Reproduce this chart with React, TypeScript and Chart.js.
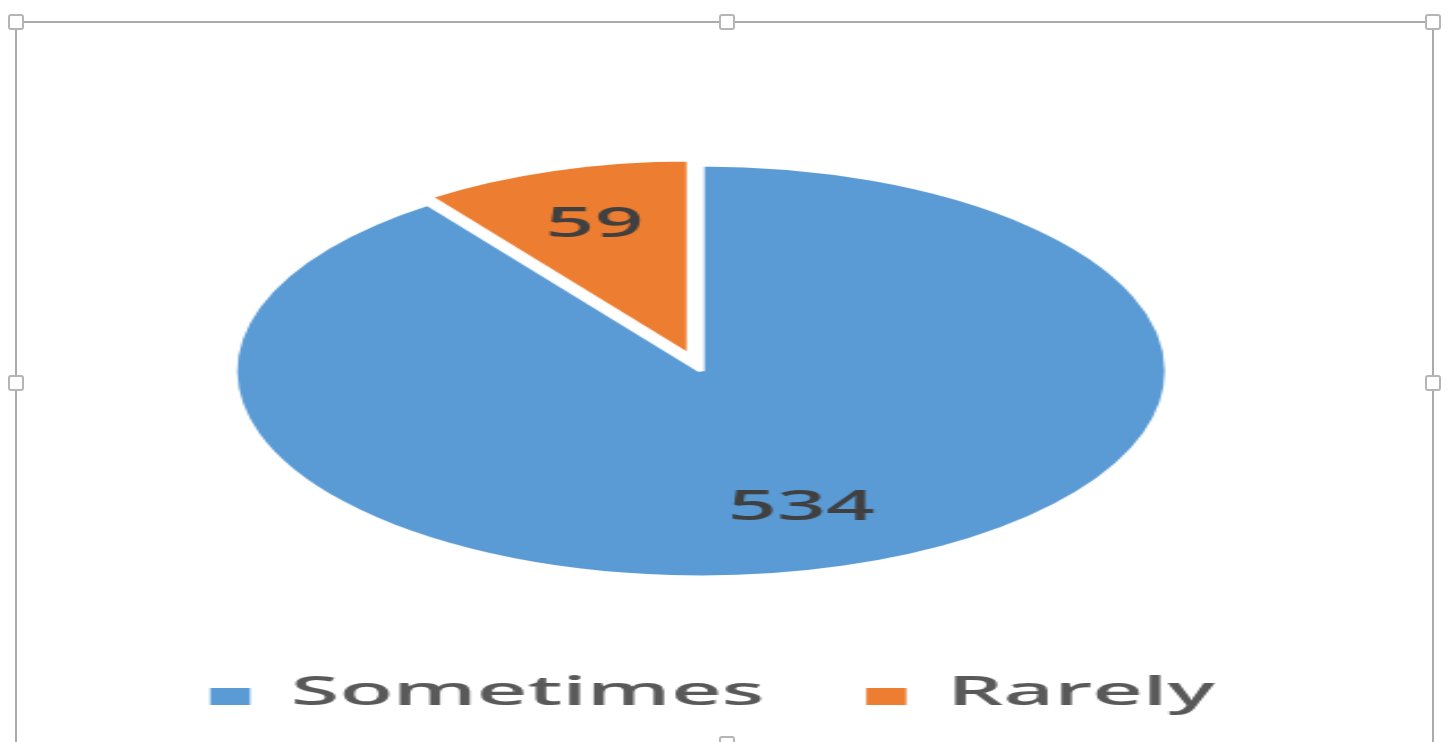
import React, { useEffect, useRef } from 'react';
import { Chart, registerables } from 'chart.js';

Chart.register(...registerables);

// ---- data ----
const CATEGORIES = ['Sometimes', 'Rarely'];
const VALUES = [534, 59];
const COLORS = ['#5B9BD5', '#ED7D31'];
const EXPLODE = [0, 16];

// ---- look ----
const VIEW_W = 1451;
const VIEW_H = 742;
const STRETCH = 2.267; // the whole picture is stretched horizontally
const CANVAS_W = Math.round(VIEW_W / STRETCH);
const FONT = '"Open Sans", "Noto Sans", sans-serif';

const explodePlugin = {
  id: 'explodeSlices',
  afterDatasetsUpdate(chart: any) {
    const meta = chart.getDatasetMeta(0);
    meta.data.forEach((arc: any, i: number) => {
      const d = EXPLODE[i];
      if (!d) return;
      const mid = (arc.startAngle + arc.endAngle) / 2;
      arc.x += Math.cos(mid) * d;
      arc.y += Math.sin(mid) * d;
      arc.outerRadius *= 0.95;
    });
  },
};

const labelsPlugin = {
  id: 'sliceLabels',
  afterDatasetsDraw(chart: any) {
    const ctx = chart.ctx;
    const meta = chart.getDatasetMeta(0);
    ctx.save();
    ctx.font = `600 42px ${FONT}`;
    ctx.fillStyle = '#404040';
    ctx.textAlign = 'center';
    ctx.textBaseline = 'middle';
    meta.data.forEach((arc: any, i: number) => {
      const mid = (arc.startAngle + arc.endAngle) / 2;
      const r = arc.outerRadius * 0.7;
      const x = arc.x + Math.cos(mid) * r;
      const y = arc.y + Math.sin(mid) * r;
      ctx.save();
      ctx.translate(x, y);
      ctx.scale(0.9, 1);
      ctx.fillText(String(VALUES[i]), 0, 0);
      ctx.restore();
    });
    ctx.restore();
  },
};

const legendPlugin = {
  id: 'bottomLegend',
  afterDraw(chart: any) {
    const ctx = chart.ctx;
    const area = chart.chartArea;
    ctx.save();
    ctx.font = `600 40px ${FONT}`;
    const SQUEEZE = 0.97;
    const BOX_W = 17.6;
    const BOX_H = 17;
    const GAP = 18;
    const ITEM_GAP = 45;
    const widths = CATEGORIES.map((t) => ctx.measureText(t).width * SQUEEZE);
    const total =
      widths.reduce((s, w) => s + BOX_W + GAP + w, 0) + ITEM_GAP * (CATEGORIES.length - 1);
    let x = (area.left + area.right) / 2 + 5 - total / 2;
    const baseline = chart.height - 37;
    CATEGORIES.forEach((t, i) => {
      ctx.fillStyle = COLORS[i];
      ctx.fillRect(x, baseline - BOX_H, BOX_W, BOX_H);
      x += BOX_W + GAP;
      ctx.fillStyle = '#595959';
      ctx.textAlign = 'left';
      ctx.textBaseline = 'alphabetic';
      ctx.save();
      ctx.translate(x, baseline);
      ctx.scale(SQUEEZE, 1);
      ctx.fillText(t, 0, 0);
      ctx.restore();
      x += widths[i] + ITEM_GAP;
    });
    ctx.restore();
  },
};

function Handle({ x, y }: { x: number; y: number }) {
  return (
    <div
      style={{
        position: 'absolute',
        left: x - 8,
        top: y - 8,
        width: 12,
        height: 12,
        border: '2px solid #b5b5b5',
        borderRadius: 3,
        background: '#ffffff',
      }}
    />
  );
}

export default function App() {
  const canvasRef = useRef<HTMLCanvasElement | null>(null);

  useEffect(() => {
    const canvas = canvasRef.current;
    if (!canvas) return;
    const chart = new Chart(canvas, {
      type: 'pie',
      data: {
        labels: CATEGORIES,
        datasets: [
          {
            data: VALUES,
            backgroundColor: COLORS,
            borderColor: '#ffffff',
            borderWidth: 3,
            radius: 206,
          } as any,
        ],
      },
      options: {
        responsive: false,
        maintainAspectRatio: false,
        devicePixelRatio: 1,
        animation: false,
        events: [],
        layout: { padding: { left: 0, right: 21.6, top: 150, bottom: 150 } },
        plugins: {
          legend: { display: false },
          tooltip: { enabled: false },
          title: { display: false },
        },
      },
      plugins: [explodePlugin, labelsPlugin, legendPlugin],
    });
    return () => chart.destroy();
  }, []);

  return (
    <div
      style={{
        position: 'fixed',
        left: 0,
        top: 0,
        width: VIEW_W,
        height: VIEW_H,
        background: '#ffffff',
        overflow: 'hidden',
      }}
    >
      <canvas
        ref={canvasRef}
        width={CANVAS_W}
        height={VIEW_H}
        style={{ position: 'absolute', left: 0, top: 0, width: VIEW_W, height: VIEW_H }}
      />
      <div style={{ position: 'absolute', left: 16, top: 21, width: 1418, height: 2, background: '#ababab' }} />
      <div style={{ position: 'absolute', left: 15, top: 22, width: 2, height: 740, background: '#ababab' }} />
      <div style={{ position: 'absolute', left: 1432, top: 22, width: 2, height: 740, background: '#ababab' }} />
      <Handle x={16} y={22} />
      <Handle x={727} y={22} />
      <Handle x={1433} y={22} />
      <Handle x={16} y={383} />
      <Handle x={1433} y={383} />
      <Handle x={727} y={744} />
    </div>
  );
}
